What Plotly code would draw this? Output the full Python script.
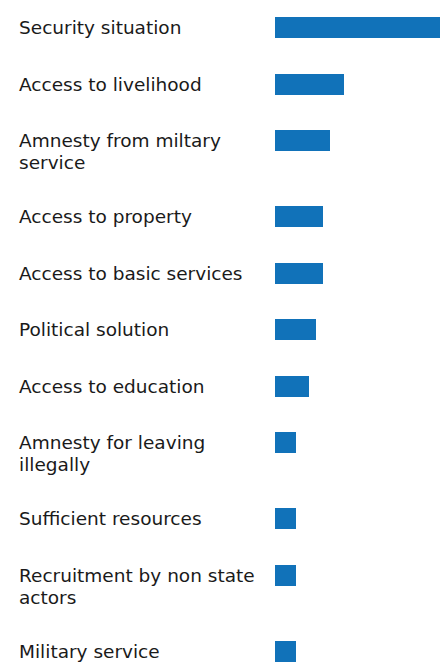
import plotly.graph_objects as go

categories = [
    "Security situation",
    "Access to livelihood",
    "Amnesty from miltary<br>service",
    "Access to property",
    "Access to basic services",
    "Political solution",
    "Access to education",
    "Amnesty for leaving<br>illegally",
    "Sufficient resources",
    "Recruitment by non state<br>actors",
    "Military service",
]
values = [24, 10, 8, 7, 7, 6, 5, 3, 3, 3, 3]

W, H = 440, 662
BAR_H = 21
ROW_1 = 56.5       # row pitch for one-line labels
EXTRA_LINE = 19.5  # extra pitch per extra label line
LINE_H = 22

# row centres derived from label line counts (layout rule)
centers = []
c = 17 + BAR_H / 2
for lab in categories:
    centers.append(c)
    lines = lab.count("<br>") + 1
    c += ROW_1 + EXTRA_LINE * (lines - 1)

fig = go.Figure(go.Bar(
    x=values, y=centers, orientation="h", width=BAR_H,
    marker=dict(color="#1172b9", line=dict(width=0)),
    hoverinfo="skip",
))

font = dict(family="'DejaVu Sans', sans-serif", size=18.5, color="#1a1a1a")
for lab, yc in zip(categories, centers):
    for k, part in enumerate(lab.split("<br>")):
        fig.add_annotation(
            x=16.5 / W, xref="paper", xanchor="left",
            y=yc + k * LINE_H, yref="y", yanchor="middle",
            text=part, showarrow=False, align="left", font=font,
        )

fig.update_layout(
    width=W, height=H,
    margin=dict(l=0, r=0, t=0, b=0),
    paper_bgcolor="white", plot_bgcolor="white",
    showlegend=False,
    xaxis=dict(domain=[275 / W, 1], range=[0, 24], visible=False, fixedrange=True),
    yaxis=dict(range=[H, 0], visible=False, fixedrange=True),
    bargap=0,
)

fig.write_html(
    "out.html",
    config={"displayModeBar": False},
    post_script="document.body.style.margin='0';document.body.style.overflow='hidden';",
)
